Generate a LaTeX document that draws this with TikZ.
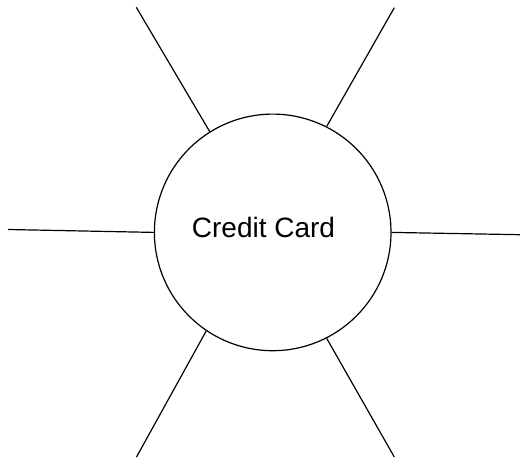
\documentclass[tikz,border=0pt]{standalone}
\usepackage{fontspec}
\setmainfont{Liberation Sans}
\begin{document}
\begin{tikzpicture}[x=1pt,y=-1pt,
  spoke/.style={draw=black, line width=1.2pt},
  hub/.style={circle, draw=black, line width=1.2pt, minimum size=236.6pt, inner sep=0pt},
  lbl/.style={font=\fontsize{28}{33}\selectfont, inner sep=0pt, anchor=base}]
\useasboundingbox (0,0) rectangle (520,458);
\node[hub] (cc) at (272.7,232.4) {};
\node[lbl] (t) at (263.5,237.3) {Credit Card};
\coordinate (tl) at (136.3,7.3);
\coordinate (tr) at (394.3,7.7);
\coordinate (l) at (8,229.5);
\coordinate (r) at (520,234.7);
\coordinate (bl) at (136.5,457);
\coordinate (br) at (394.3,457);
\draw[spoke] (tl) -- (cc.122.8);
\draw[spoke] (tr) -- (cc.63.1);
\draw[spoke] (l) -- (cc.180);
\draw[spoke] (r) -- (cc.0);
\draw[spoke] (bl) -- (cc.236.9);
\draw[spoke] (br) -- (cc.297.1);
\end{tikzpicture}
\end{document}
